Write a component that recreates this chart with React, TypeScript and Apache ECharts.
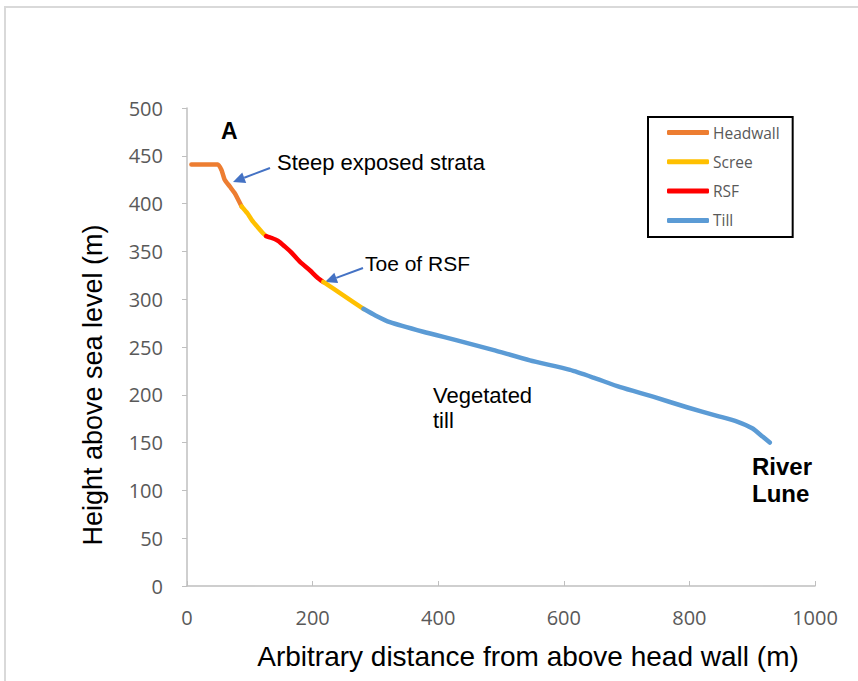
import React, { useEffect, useRef } from "react";
import * as echarts from "echarts";

const seriesNames = ["Headwall", "Scree", "RSF", "Till"];
const seriesColors = ["#ED7D31", "#FFC000", "#FF0000", "#5B9BD5"];

const headwall = [[7, 441], [49, 441], [55, 435], [60, 425], [68, 418], [76, 411], [87, 397]];
const screeUpper = [[87, 397], [96, 390], [103, 383], [113, 375], [121, 369], [126, 366]];
const rsf = [[126, 366], [135, 364], [145, 361], [156, 355], [166, 349], [180, 339], [196, 330], [207, 323], [217, 318]];
const screeLower = [[217, 318], [249, 304], [281, 290]];
const till = [[281, 290], [300, 283], [323, 276], [376, 266], [430, 257], [487, 247], [546, 236], [610, 226], [647, 218], [690, 208], [742, 198], [796, 187], [844, 178], [876, 172], [900, 165], [917, 156], [928, 150]];

const xMin = 0, xMax = 1000, xStep = 200;
const yMin = 0, yMax = 500, yStep = 50;

const xTitle = "Arbitrary distance from above head wall (m)";
const yTitle = "Height above sea level (m)";

function arrow(x1: number, y1: number, x2: number, y2: number, color: string) {
  const dx = x2 - x1, dy = y2 - y1;
  const L = Math.hypot(dx, dy);
  const ux = dx / L, uy = dy / L;
  const hl = 12, hw = 5.5;
  const bx = x2 - ux * hl, by = y2 - uy * hl;
  return [
    { type: "line", shape: { x1, y1, x2: bx, y2: by }, style: { stroke: color, lineWidth: 2 } },
    {
      type: "polygon",
      shape: { points: [[x2, y2], [bx - uy * hw, by + ux * hw], [bx + uy * hw, by - ux * hw]] },
      style: { fill: color },
    },
  ];
}

function txt(x: number, y: number, text: string, size: number, bold = false, extra: any = {}) {
  return {
    type: "text",
    x,
    y,
    z: 10,
    ...extra,
    style: {
      text,
      fontFamily: "Liberation Sans, Arial, sans-serif",
      fontSize: size,
      fontWeight: bold ? "bold" : "normal",
      fill: "#000000",
      textAlign: extra.align || "left",
      align: extra.align || "left",
      textVerticalAlign: "middle",
      verticalAlign: "middle",
      lineHeight: size + 3,
    },
  };
}

export default function App() {
  const ref = useRef<HTMLDivElement>(null);
  useEffect(() => {
    if (!ref.current) return;
    const chart = echarts.init(ref.current, undefined, { renderer: "svg" });
    const mk = (name: string, color: string, data: number[][]) => ({
      name,
      type: "line",
      data,
      showSymbol: false,
      symbol: "none",
      smooth: 0.2,
      color,
      lineStyle: { color, width: 4.5, cap: "round", join: "round" },
    });
    const arrowColor = "#4472C4";
    chart.setOption({
      animation: false,
      backgroundColor: "#ffffff",
      grid: { left: 187, right: 43, top: 108, bottom: 95 },
      legend: {
        data: seriesNames,
        orient: "vertical",
        left: 648,
        top: 117,
        width: 147,
        borderColor: "#000000",
        borderWidth: 2,
        padding: [6, 13, 7, 19],
        itemGap: 10.3,
        itemWidth: 42,
        itemHeight: 5,
        icon: "roundRect",
        textStyle: { fontFamily: "Open Sans", fontSize: 15.5, color: "#595959", lineHeight: 19, padding: [0, 0, 0, -1] },
      },
      xAxis: {
        type: "value",
        min: xMin,
        max: xMax,
        interval: xStep,
        splitLine: { show: false },
        axisLine: { lineStyle: { color: "#BFBFBF", width: 1.5 } },
        axisTick: { show: true, inside: true, length: 5, lineStyle: { color: "#BFBFBF" } },
        axisLabel: { fontFamily: "Open Sans", fontSize: 20, color: "#595959", margin: 21, formatter: (v: number) => String(v) },
      },
      yAxis: {
        type: "value",
        min: yMin,
        max: yMax,
        interval: yStep,
        splitLine: { show: false },
        axisLine: { show: true, lineStyle: { color: "#BFBFBF", width: 1.5 } },
        axisTick: { show: true, length: 5, lineStyle: { color: "#BFBFBF" } },
        axisLabel: { fontFamily: "Open Sans", fontSize: 20, color: "#595959", margin: 24, formatter: (v: number) => String(v) },
      },
      series: [
        mk(seriesNames[0], seriesColors[0], headwall),
        mk(seriesNames[1], seriesColors[1], screeUpper),
        mk(seriesNames[2], seriesColors[2], rsf),
        mk(seriesNames[1], seriesColors[1], screeLower),
        mk(seriesNames[3], seriesColors[3], till),
      ],
      graphic: [
        {
          type: "rect",
          z: -1,
          shape: { x: 5, y: 7, width: 900, height: 900 },
          style: { fill: "none", stroke: "#D9D9D9", lineWidth: 2 },
        },
        txt(221, 131, "A", 23, true),
        txt(277, 162, "Steep exposed strata", 22),
        txt(365, 263, "Toe of RSF", 21),
        txt(433, 408, "Vegetated\ntill", 22),
        txt(752, 480, "River\nLune", 24, true),
        txt(528, 656, xTitle, 28, false, { align: "center" }),
        txt(93, 385, yTitle, 27, false, { align: "center", rotation: Math.PI / 2 }),
        ...arrow(270, 168, 233, 182, arrowColor),
        ...arrow(363, 268, 325, 282, arrowColor),
      ],
    });
    return () => chart.dispose();
  }, []);
  return (
    <div
      ref={ref}
      style={{ position: "fixed", left: 0, top: 0, width: 858, height: 681, background: "#fff" }}
    />
  );
}
